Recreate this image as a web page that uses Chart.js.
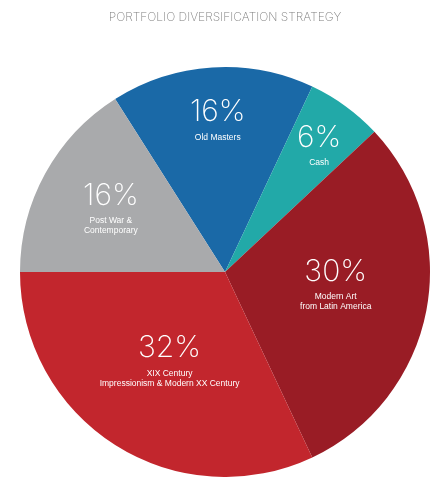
<!DOCTYPE html>
<html>
<head>
<meta charset="utf-8">
<script src="https://cdn.jsdelivr.net/npm/chart.js@4/dist/chart.umd.min.js"></script>
<style>
  html, body { margin: 0; padding: 0; background: #fff; }
  #wrap { width: 439px; height: 477px; }
</style>
</head>
<body>
<div id="wrap"><canvas id="pie" width="439" height="477"></canvas></div>
<script>
const categories = [
  "Old Masters",
  "Cash",
  ["Modern Art", "from Latin America"],
  ["XIX Century", "Impressionism & Modern XX Century"],
  ["Post War &", "Contemporary"]
];
const shares = [16, 6, 30, 32, 16];
const sliceColors = ["#1a69a7", "#22a9a8", "#991c25", "#c2262d", "#a9aaac"];

// where each label group sits inside its slice: fraction of radius, angle shift (deg)
const labelSpots = [
  { frac: 0.78, shift: 1 },
  { frac: 0.80, shift: -1 },
  { frac: 0.54, shift: -10.8 },
  { frac: 0.46, shift: 3.6 },
  { frac: 0.67, shift: 5 }
];

const sliceLabels = {
  id: "sliceLabels",
  afterDatasetsDraw(chart) {
    const ctx = chart.ctx;
    const meta = chart.getDatasetMeta(0);
    meta.data.forEach((arc, i) => {
      const p = arc.getProps(["x", "y", "startAngle", "endAngle", "outerRadius"], true);
      const spot = labelSpots[i];
      const mid = (p.startAngle + p.endAngle) / 2 + spot.shift * Math.PI / 180;
      const cx = p.x + Math.cos(mid) * p.outerRadius * spot.frac;
      const cy = p.y + Math.sin(mid) * p.outerRadius * spot.frac;
      ctx.save();
      ctx.fillStyle = "#ffffff";
      ctx.textAlign = "center";
      ctx.textBaseline = "middle";
      ctx.font = "200 30px Inter, Lato, Roboto, sans-serif";
      ctx.fillText(shares[i] + "%", cx, cy);
      ctx.font = "400 8.5px 'Liberation Sans', Arial, sans-serif";
      const lines = [].concat(chart.data.labels[i]);
      lines.forEach((line, j) => {
        ctx.fillText(line, cx, cy + 25 + j * 10);
      });
      ctx.restore();
    });
  }
};

new Chart(document.getElementById("pie"), {
  type: "pie",
  data: {
    labels: categories,
    datasets: [{
      data: shares,
      backgroundColor: sliceColors,
      borderWidth: 0
    }]
  },
  options: {
    responsive: false,
    animation: false,
    rotation: -32.4,
    layout: { padding: { top: 0, left: 20, right: 9, bottom: 0 } },
    plugins: {
      legend: { display: false },
      tooltip: { enabled: false },
      title: {
        display: true,
        text: "PORTFOLIO DIVERSIFICATION STRATEGY",
        color: "#808080",
        font: { family: "Inter, Lato, sans-serif", size: 12, weight: "200", lineHeight: 1.2 },
        padding: { top: 10, bottom: 42.6 }
      }
    }
  },
  plugins: [sliceLabels]
});
</script>
</body>
</html>
